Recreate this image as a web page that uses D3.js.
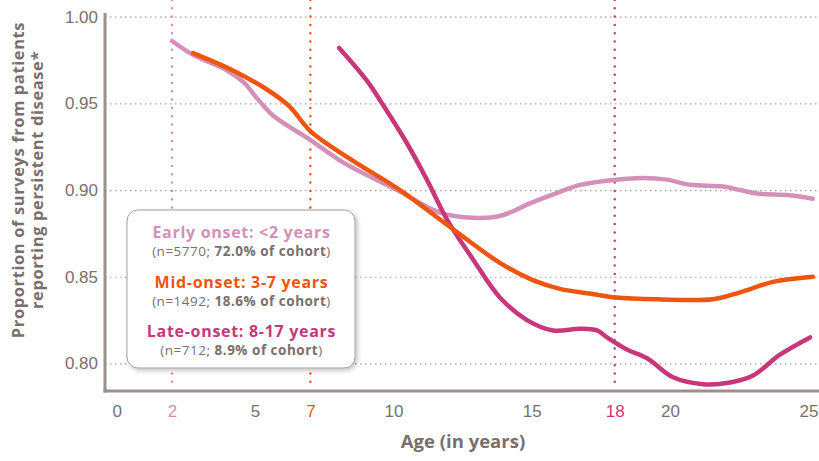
<!DOCTYPE html>
<html>
<head>
<meta charset="utf-8">
<script src="https://cdn.jsdelivr.net/npm/d3@7"></script>
<style>
  body { margin: 0; background: #fff; }
  svg { display: block; font-family: "Open Sans", Lato, sans-serif; }
</style>
</head>
<body>
<svg id="chart"></svg>
<script>
// ages (years) and proportions
const earlyAge = [2.0, 2.76, 3.99, 4.6, 5.07, 5.65, 6.99, 8.18, 10.13, 11.68, 12.88, 13.85, 15.04, 16.02, 16.75, 18.05, 19.02, 19.89, 20.72, 21.91, 22.53, 23.14, 24.33, 25.16];
const earlyVal = [0.986, 0.978, 0.969, 0.962, 0.953, 0.943, 0.929, 0.916, 0.900, 0.887, 0.884, 0.885, 0.893, 0.899, 0.903, 0.906, 0.907, 0.906, 0.903, 0.902, 0.900, 0.898, 0.897, 0.895];

const midAge = [2.76, 4.2, 5.43, 6.26, 7.0, 8.43, 10.24, 11.94, 13.85, 15.04, 16.02, 17.2, 18.05, 19.53, 21.55, 22.53, 23.72, 25.16];
const midVal = [0.979, 0.969, 0.958, 0.948, 0.934, 0.918, 0.900, 0.880, 0.858, 0.848, 0.843, 0.840, 0.838, 0.837, 0.837, 0.841, 0.847, 0.850];

const lateAge = [8.04, 9.05, 9.63, 10.49, 11.21, 11.94, 12.88, 13.85, 14.83, 15.77, 16.75, 17.36, 17.72, 18.44, 19.17, 20.11, 21.19, 22.17, 23.0, 23.97, 25.06];
const lateVal = [0.982, 0.963, 0.949, 0.927, 0.906, 0.883, 0.860, 0.838, 0.825, 0.819, 0.820, 0.819, 0.815, 0.808, 0.803, 0.792, 0.788, 0.789, 0.793, 0.805, 0.815];

const xTicks = [0, 2, 5, 7, 10, 15, 18, 20, 25];
const yTicks = [0.80, 0.85, 0.90, 0.95, 1.00];
const onsetMarks = [2, 7, 18];

const colors = { early: '#d590b9', mid: '#ee5511', late: '#c7377a' };
const markColors = [colors.early, colors.mid, colors.late];
const grey = '#7a6f6c';

const legendItems = [
  { title: 'Early onset: <2 years', n: 'n=5770; ', pct: '72.0% of cohort', color: colors.early },
  { title: 'Mid-onset: 3-7 years', n: 'n=1492; ', pct: '18.6% of cohort', color: colors.mid },
  { title: 'Late-onset: 8-17 years', n: 'n=712; ', pct: '8.9% of cohort', color: colors.late }
];

const w = 819, h = 461;
const svg = d3.select('#chart').attr('width', w).attr('height', h);

const x = d3.scaleLinear().domain([0, 25]).range([116.7, 808.4]);
const y = d3.scaleLinear().domain([0.80, 1.00]).range([363.4, 16.7]);

const axisLeftX = 105, axisBottomY = 391;

// shadow for the legend box
const defs = svg.append('defs');
defs.append('filter').attr('id', 'shadow')
  .attr('x', '-10%').attr('y', '-10%').attr('width', '130%').attr('height', '130%')
  .append('feDropShadow')
  .attr('dx', 2).attr('dy', 2).attr('stdDeviation', 2)
  .attr('flood-color', '#000').attr('flood-opacity', 0.25);

// gridlines
const yAxis = d3.axisLeft(y).tickValues(yTicks).tickFormat(d3.format('.2f'))
  .tickSize(-(w - axisLeftX)).tickPadding(7);
const gy = svg.append('g').attr('transform', `translate(${axisLeftX},0)`).call(yAxis);
gy.select('.domain').remove();
gy.selectAll('.tick line')
  .attr('stroke', '#a8a09d').attr('stroke-width', 1.2).attr('stroke-dasharray', '1.5,3.5');
gy.selectAll('.tick text')
  .attr('fill', grey).style('font-size', '17px').attr('x', -7);

// vertical onset markers
svg.selectAll('.onset')
  .data(onsetMarks)
  .join('line')
    .attr('class', 'onset')
    .attr('x1', d => x(d)).attr('x2', d => x(d))
    .attr('y1', 0).attr('y2', axisBottomY - 4)
    .attr('stroke', (d, i) => markColors[i])
    .attr('stroke-width', 2.5)
    .attr('stroke-linecap', 'round')
    .attr('stroke-dasharray', '0,8.3');

// axis lines
svg.append('line')
  .attr('x1', axisLeftX).attr('x2', axisLeftX).attr('y1', 13).attr('y2', axisBottomY + 1.5)
  .attr('stroke', '#9c908c').attr('stroke-width', 3);
svg.append('line')
  .attr('x1', axisLeftX - 1.5).attr('x2', w).attr('y1', axisBottomY).attr('y2', axisBottomY)
  .attr('stroke', '#9c908c').attr('stroke-width', 3);

// x axis labels
const xAxis = d3.axisBottom(x).tickValues(xTicks).tickSize(0).tickPadding(14);
const gx = svg.append('g').attr('transform', `translate(0,${axisBottomY})`).call(xAxis);
gx.select('.domain').remove();
gx.selectAll('.tick text')
  .style('font-size', '17px')
  .attr('fill', d => d === 2 ? colors.early : d === 7 ? colors.mid : d === 18 ? colors.late : grey);

// axis titles
svg.append('text')
  .attr('x', 463).attr('y', 448)
  .attr('text-anchor', 'middle')
  .attr('fill', grey).style('font-size', '18.5px').style('font-weight', 700)
  .text('Age (in years)');

const yTitle = svg.append('text')
  .attr('transform', 'translate(24,180) rotate(-90)')
  .attr('text-anchor', 'middle')
  .attr('fill', grey).style('font-size', '16.5px').style('font-weight', 700)
  .style('letter-spacing', '0.6px');
yTitle.append('tspan').attr('x', 0).attr('y', 0).text('Proportion of surveys from patients');
yTitle.append('tspan').attr('x', 0).attr('y', 19).text('reporting persistent disease*');

// series lines
const line = d3.line()
  .x(d => x(d[0]))
  .y(d => y(d[1]))
  .curve(d3.curveCatmullRom.alpha(0.5));

const series = [
  { ages: earlyAge, vals: earlyVal, color: colors.early },
  { ages: lateAge, vals: lateVal, color: colors.late },
  { ages: midAge, vals: midVal, color: colors.mid }
];

svg.selectAll('.series')
  .data(series)
  .join('path')
    .attr('class', 'series')
    .attr('d', s => line(s.ages.map((a, i) => [a, s.vals[i]])))
    .attr('fill', 'none')
    .attr('stroke', s => s.color)
    .attr('stroke-width', 4.5)
    .attr('stroke-linecap', 'round')
    .attr('stroke-linejoin', 'round');

// legend box
const lg = svg.append('g');
lg.append('rect')
  .attr('x', 127).attr('y', 210).attr('width', 228).attr('height', 158)
  .attr('rx', 11)
  .attr('fill', '#fff')
  .attr('stroke', '#a89e9a').attr('stroke-width', 1)
  .attr('filter', 'url(#shadow)');

const cx = 241.5;
legendItems.forEach((d, i) => {
  const base = 238 + i * 49.5;
  lg.append('text')
    .attr('x', cx).attr('y', base)
    .attr('text-anchor', 'middle')
    .attr('fill', d.color).style('font-size', '16px').style('font-weight', 700)
    .style('letter-spacing', '0.7px')
    .text(d.title);
  const sub = lg.append('text')
    .attr('x', cx).attr('y', base + 18)
    .attr('text-anchor', 'middle')
    .attr('fill', grey).style('font-size', '13.5px')
    .style('letter-spacing', '0.5px');
  sub.append('tspan').text('(' + d.n);
  sub.append('tspan').style('font-weight', 700).text(d.pct);
  sub.append('tspan').text(')');
});
</script>
</body>
</html>
